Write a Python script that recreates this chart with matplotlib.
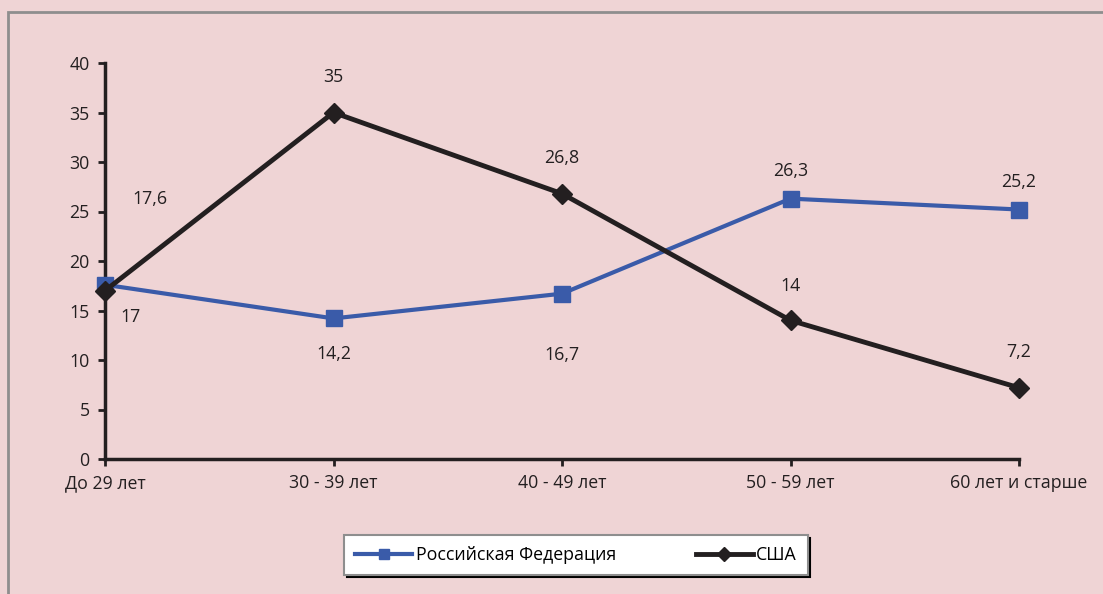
import matplotlib.pyplot as plt
from matplotlib.patches import Rectangle

# age groups and shares per country
categories = ["До 29 лет", "30 - 39 лет", "40 - 49 лет", "50 - 59 лет", "60 лет и старше"]
russia = [17.6, 14.2, 16.7, 26.3, 25.2]
usa = [17, 35, 26.8, 14, 7.2]

# label offsets in pixels from each point
russia_offsets = [(45, 86), (0, -36), (0, -61), (0, 28), (0, 28)]
usa_offsets = [(25, -26), (0, 35), (0, 36), (0, 34), (0, 36)]

bg = "#EFD4D5"
blue = "#3A5BA9"
black = "#231F20"
fs = 12.8

plt.rcParams['font.family'] = ['Open Sans', 'DejaVu Sans']

fig = plt.figure(figsize=(11.03, 5.94), dpi=100, facecolor=bg)
ax = fig.add_axes([105 / 1103, 1 - 459 / 594, 914 / 1103, 396 / 594])
ax.set_facecolor(bg)

# outer chart frame
fig.patches.append(Rectangle((8 / 1103, -0.1), 1.2, 1 - 12 / 594 + 0.1,
                             transform=fig.transFigure, fill=False,
                             edgecolor="#8E8E8E", linewidth=2))

x = list(range(len(categories)))
ax.plot(x, russia, color=blue, linewidth=3, marker="s", markersize=11,
        label="Российская Федерация", zorder=3, clip_on=False)
ax.plot(x, usa, color=black, linewidth=3.5, marker="D", markersize=10,
        label="США", zorder=4, clip_on=False)

for xi, v, off in zip(x, russia, russia_offsets):
    ax.annotate(str(v).replace(".", ","), (xi, v), xytext=off,
                textcoords="offset pixels", ha="center", va="center",
                fontsize=fs, color=black)
for xi, v, off in zip(x, usa, usa_offsets):
    ax.annotate(str(v).replace(".", ","), (xi, v), xytext=off,
                textcoords="offset pixels", ha="center", va="center",
                fontsize=fs, color=black)

ax.set_xlim(0, 4)
ax.set_ylim(0, 40)
ax.set_yticks(range(0, 41, 5))
ax.set_xticks(x)
ax.set_xticklabels(categories)
for s in ["top", "right"]:
    ax.spines[s].set_visible(False)
for s in ["left", "bottom"]:
    ax.spines[s].set_linewidth(2.5)
    ax.spines[s].set_color(black)
ax.tick_params(axis="both", direction="out", length=5, width=2, color=black,
               labelsize=fs, labelcolor=black)
ax.tick_params(axis="x", pad=6)
ax.tick_params(axis="y", pad=6)

leg = ax.legend(loc="center", bbox_to_anchor=(576 / 1103, 1 - 555 / 594),
                bbox_transform=fig.transFigure, ncol=2, frameon=True,
                fancybox=False, shadow={"color": "black", "alpha": 1},
                fontsize=fs, handlelength=3.2, columnspacing=4.5,
                borderpad=0.6, handletextpad=0.2, borderaxespad=0)
leg.get_frame().set_edgecolor("#8E8E8E")
leg.get_frame().set_linewidth(1.5)
for h in leg.legend_handles:
    h.set_markersize(7)

fig.savefig("out.png", dpi=100, facecolor=bg)
